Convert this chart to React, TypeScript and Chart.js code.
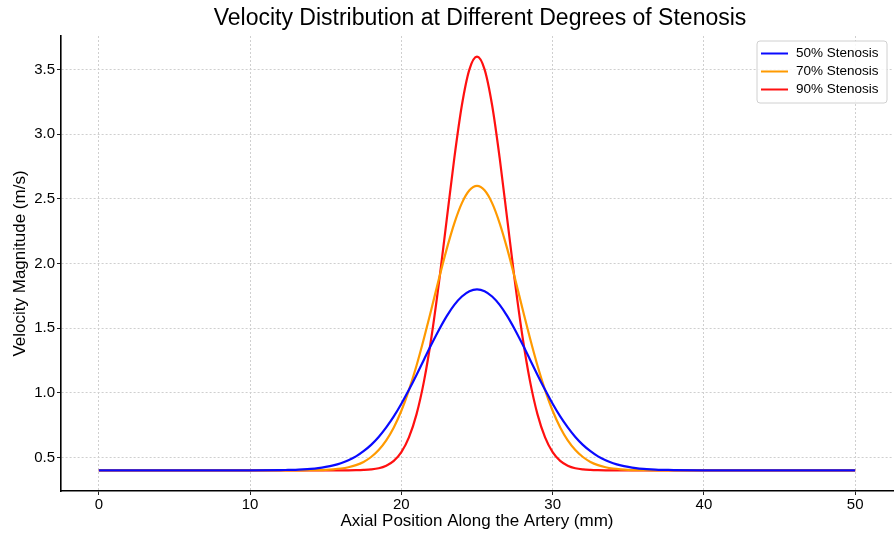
import React, { useEffect, useRef } from "react";
import { Chart, registerables } from "chart.js";

Chart.register(...registerables);

const TITLE = "Velocity Distribution at Different Degrees of Stenosis";
const X_LABEL = "Axial Position Along the Artery (mm)";
const Y_LABEL = "Velocity Magnitude (m/s)";
const SERIES_LABELS = ["50% Stenosis", "70% Stenosis", "90% Stenosis"];
const SERIES_COLORS = ["#0a0aff", "#ff9a00", "#ff1010"];

const X_TICKS = [0, 10, 20, 30, 40, 50];
const Y_TICKS = [0.5, 1.0, 1.5, 2.0, 2.5, 3.0, 3.5];

const positions = [
  0, 5, 10,
  12, 12.5, 13, 13.5, 14, 14.5, 15, 15.5, 16, 16.5, 17, 17.5, 18, 18.5, 19, 19.5,
  20, 20.5, 21, 21.5, 22, 22.5, 23, 23.5, 24, 24.5, 25, 25.5, 26, 26.5, 27, 27.5,
  28, 28.5, 29, 29.5, 30, 30.5, 31, 31.5, 32, 32.5, 33, 33.5, 34, 34.5, 35, 35.5,
  36, 36.5, 37, 37.5, 38,
  40, 45, 50,
];

const stenosis50 = [
  0.4, 0.4, 0.4,
  0.402, 0.403, 0.404, 0.407, 0.411, 0.417, 0.426, 0.438, 0.455, 0.478, 0.508, 0.548, 0.597, 0.658, 0.732, 0.817,
  0.915, 1.023, 1.138, 1.258, 1.377, 1.49, 1.593, 1.68, 1.745, 1.786, 1.8, 1.786, 1.745, 1.68, 1.593, 1.49,
  1.377, 1.258, 1.138, 1.023, 0.915, 0.817, 0.732, 0.658, 0.597, 0.548, 0.508, 0.478, 0.455, 0.438, 0.426, 0.417,
  0.411, 0.407, 0.404, 0.403, 0.402,
  0.4, 0.4, 0.4,
];

const stenosis70 = [
  0.4, 0.4, 0.4,
  0.4, 0.4, 0.4, 0.4, 0.401, 0.402, 0.404, 0.408, 0.414, 0.424, 0.44, 0.465, 0.503, 0.557, 0.632, 0.732,
  0.861, 1.021, 1.209, 1.423, 1.654, 1.889, 2.113, 2.311, 2.467, 2.566, 2.6, 2.566, 2.467, 2.311, 2.113, 1.889,
  1.654, 1.423, 1.209, 1.021, 0.861, 0.732, 0.632, 0.557, 0.503, 0.465, 0.44, 0.424, 0.414, 0.408, 0.404, 0.402,
  0.401, 0.4, 0.4, 0.4, 0.4,
  0.4, 0.4, 0.4,
];

const stenosis90 = [
  0.4, 0.4, 0.4,
  0.4, 0.4, 0.4, 0.4, 0.4, 0.4, 0.4, 0.4, 0.4, 0.4, 0.401, 0.403, 0.407, 0.416, 0.436, 0.473,
  0.541, 0.655, 0.833, 1.092, 1.439, 1.865, 2.341, 2.815, 3.224, 3.502, 3.6, 3.502, 3.224, 2.815, 2.341, 1.865,
  1.439, 1.092, 0.833, 0.655, 0.541, 0.473, 0.436, 0.416, 0.407, 0.403, 0.401, 0.4, 0.4, 0.4, 0.4, 0.4,
  0.4, 0.4, 0.4, 0.4, 0.4,
  0.4, 0.4, 0.4,
];

const SERIES = [stenosis50, stenosis70, stenosis90];

const FONT = "'Liberation Sans', Arial, Helvetica, sans-serif";

const overlayPlugin = {
  id: "overlay",
  afterDraw(chart: any) {
    const { ctx, chartArea } = chart;
    ctx.save();
    // Title
    ctx.fillStyle = "#000";
    ctx.font = `23px ${FONT}`;
    ctx.textAlign = "center";
    ctx.textBaseline = "middle";
    ctx.fillText(TITLE, (chartArea.left + chartArea.right) / 2 + 3, 19);

    // Legend
    const bx = 757, by = 41, bw = 130, bh = 62;
    ctx.beginPath();
    const r = 3;
    ctx.moveTo(bx + r, by);
    ctx.lineTo(bx + bw - r, by);
    ctx.quadraticCurveTo(bx + bw, by, bx + bw, by + r);
    ctx.lineTo(bx + bw, by + bh - r);
    ctx.quadraticCurveTo(bx + bw, by + bh, bx + bw - r, by + bh);
    ctx.lineTo(bx + r, by + bh);
    ctx.quadraticCurveTo(bx, by + bh, bx, by + bh - r);
    ctx.lineTo(bx, by + r);
    ctx.quadraticCurveTo(bx, by, bx + r, by);
    ctx.closePath();
    ctx.fillStyle = "rgba(255,255,255,0.85)";
    ctx.fill();
    ctx.strokeStyle = "#d0d0d0";
    ctx.lineWidth = 1;
    ctx.stroke();

    ctx.font = `13.5px ${FONT}`;
    ctx.textAlign = "left";
    ctx.textBaseline = "middle";
    chart.data.datasets.forEach((ds: any, i: number) => {
      const y = by + 12.5 + i * 18;
      ctx.strokeStyle = ds.borderColor;
      ctx.lineWidth = 2;
      ctx.beginPath();
      ctx.moveTo(761, y);
      ctx.lineTo(788, y);
      ctx.stroke();
      ctx.fillStyle = "#000";
      ctx.fillText(ds.label, 796, y);
    });
    ctx.restore();
  },
};

export default function App() {
  const ref = useRef<HTMLCanvasElement | null>(null);

  useEffect(() => {
    if (!ref.current) return;
    const chart = new Chart(ref.current, {
      type: "line",
      data: {
        datasets: SERIES.map((vals, i) => ({
          label: SERIES_LABELS[i],
          data: vals.map((v, j) => ({ x: positions[j], y: v })),
          borderColor: SERIES_COLORS[i],
          backgroundColor: SERIES_COLORS[i],
          borderWidth: 2.2,
          pointRadius: 0,
          fill: false,
          cubicInterpolationMode: "monotone" as const,
        })),
      },
      options: {
        animation: false,
        responsive: false,
        maintainAspectRatio: false,
        layout: { padding: { top: 36, right: 1, left: 0, bottom: 0 } },
        plugins: {
          legend: { display: false },
          title: { display: false },
          tooltip: { enabled: false },
        },
        scales: {
          x: {
            type: "linear",
            min: -2.5,
            max: 52.5,
            afterBuildTicks: (scale: any) => {
              scale.ticks = X_TICKS.map((v) => ({ value: v }));
            },
            afterFit: (scale: any) => {
              scale.height = 43;
            },
            ticks: {
              color: "#000",
              font: { family: FONT, size: 15 },
              padding: 1,
              maxRotation: 0,
              callback: (v: any) => String(v),
            },
            grid: {
              color: "#cfcfcf",
              lineWidth: 1,
              tickLength: 4,
              tickColor: "#222",
              tickWidth: 1,
            },
            border: { display: true, color: "#000", width: 1.6, dash: [2, 2] },
            title: {
              display: true,
              text: X_LABEL,
              color: "#000",
              font: { family: FONT, size: 17 },
              padding: { top: 0, bottom: 2 },
            },
          },
          y: {
            type: "linear",
            min: 0.24,
            max: 3.76,
            afterBuildTicks: (scale: any) => {
              scale.ticks = Y_TICKS.map((v) => ({ value: v }));
            },
            afterFit: (scale: any) => {
              scale.width = 61;
            },
            ticks: {
              color: "#000",
              font: { family: FONT, size: 15 },
              padding: 2,
              callback: (v: any) => Number(v).toFixed(1),
            },
            grid: {
              color: "#cfcfcf",
              lineWidth: 1,
              tickLength: 4,
              tickColor: "#222",
              tickWidth: 1,
            },
            border: { display: true, color: "#000", width: 1.6, dash: [2, 2] },
            title: {
              display: true,
              text: Y_LABEL,
              color: "#000",
              font: { family: FONT, size: 17 },
              padding: { top: 10, bottom: 0 },
            },
          },
        },
      },
      plugins: [overlayPlugin],
    });
    return () => chart.destroy();
  }, []);

  return (
    <div style={{ position: "fixed", left: 0, top: 0, width: 894, height: 534, background: "#fff" }}>
      <canvas ref={ref} width={894} height={534} style={{ display: "block" }} />
    </div>
  );
}
